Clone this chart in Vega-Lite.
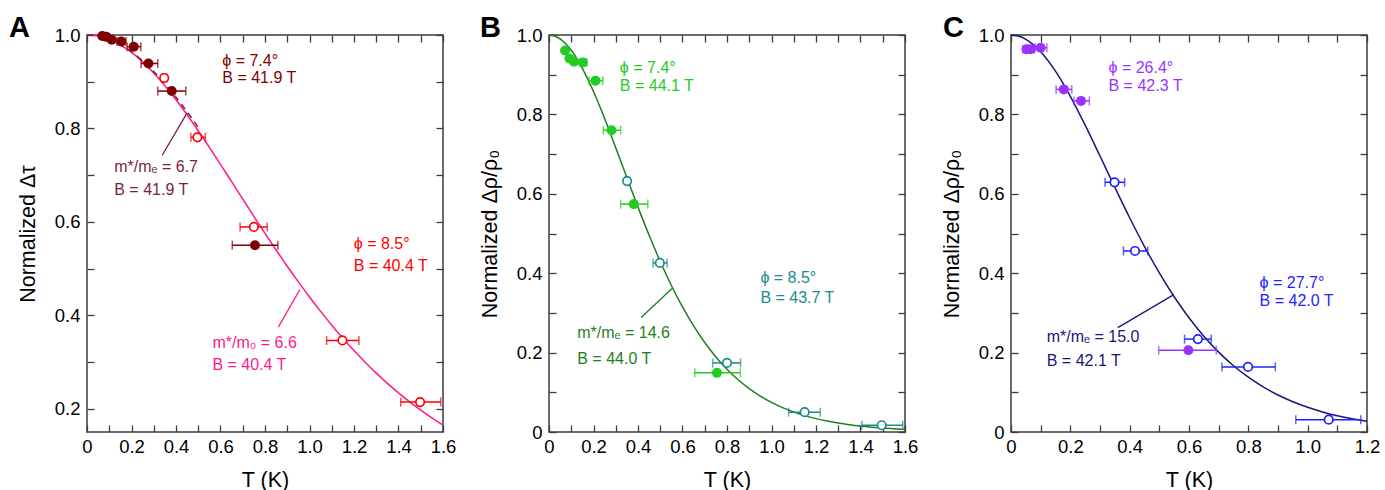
{
  "$schema": "https://vega.github.io/schema/vega-lite/v6.json",
  "background": "white",
  "padding": {"left": 8, "top": 13, "right": 2, "bottom": 0},
  "bounds": "flush",
  "spacing": 106,
  "config": {
    "font": "Liberation Sans",
    "view": {"stroke": "#3c3c3c", "strokeWidth": 1.5},
    "axis": {"labelFontSize": 18.5, "titleFontSize": 21.5, "titleFontWeight": "normal", "labelColor": "#000", "titleColor": "#000", "tickColor": "#3c3c3c", "tickWidth": 1.3, "labelFont": "Liberation Sans", "titleFont": "Liberation Sans", "grid": false, "domain": false, "labelOverlap": false, "labelFlush": false},
    "range": {"category": ["#7f0000", "#ff0000", "#ff1a8c", "#7a1f44", "#22cc22", "#1a8c8c", "#1e7f1e", "#9933ff", "#1f1fff", "#16167a"]},
    "title": {"font": "Liberation Sans"}
  },
  "datasets": {
    "curveA": [{"T":0,"v":1,"s":"Afit"},{"T":0.05,"v":0.9976,"s":"Afit"},{"T":0.1,"v":0.9905,"s":"Afit"},{"T":0.15,"v":0.9787,"s":"Afit"},{"T":0.2,"v":0.9626,"s":"Afit"},{"T":0.25,"v":0.9424,"s":"Afit"},{"T":0.3,"v":0.9186,"s":"Afit"},{"T":0.35,"v":0.8914,"s":"Afit"},{"T":0.4,"v":0.8615,"s":"Afit"},{"T":0.45,"v":0.8292,"s":"Afit"},{"T":0.5,"v":0.795,"s":"Afit"},{"T":0.55,"v":0.7594,"s":"Afit"},{"T":0.6,"v":0.7229,"s":"Afit"},{"T":0.65,"v":0.6859,"s":"Afit"},{"T":0.7,"v":0.6488,"s":"Afit"},{"T":0.75,"v":0.6118,"s":"Afit"},{"T":0.8,"v":0.5753,"s":"Afit"},{"T":0.85,"v":0.5396,"s":"Afit"},{"T":0.9,"v":0.5049,"s":"Afit"},{"T":0.95,"v":0.4714,"s":"Afit"},{"T":1.0,"v":0.4391,"s":"Afit"},{"T":1.05,"v":0.4082,"s":"Afit"},{"T":1.1,"v":0.3787,"s":"Afit"},{"T":1.15,"v":0.3508,"s":"Afit"},{"T":1.2,"v":0.3244,"s":"Afit"},{"T":1.25,"v":0.2995,"s":"Afit"},{"T":1.3,"v":0.2761,"s":"Afit"},{"T":1.35,"v":0.2542,"s":"Afit"},{"T":1.4,"v":0.2337,"s":"Afit"},{"T":1.45,"v":0.2146,"s":"Afit"},{"T":1.5,"v":0.1969,"s":"Afit"},{"T":1.55,"v":0.1804,"s":"Afit"},{"T":1.6,"v":0.1652,"s":"Afit"}],
    "curveA74": [{"T":0,"v":1,"s":"Afit74"},{"T":0.05,"v":0.9977,"s":"Afit74"},{"T":0.1,"v":0.9909,"s":"Afit74"},{"T":0.15,"v":0.9796,"s":"Afit74"},{"T":0.2,"v":0.9641,"s":"Afit74"},{"T":0.25,"v":0.9448,"s":"Afit74"},{"T":0.3,"v":0.9218,"s":"Afit74"},{"T":0.35,"v":0.8956,"s":"Afit74"},{"T":0.4,"v":0.8667,"s":"Afit74"},{"T":0.45,"v":0.8355,"s":"Afit74"},{"T":0.5,"v":0.8024,"s":"Afit74"}],
    "curveB": [{"T":0,"v":1,"s":"Bfit"},{"T":0.025,"v":0.9975,"s":"Bfit"},{"T":0.05,"v":0.9902,"s":"Bfit"},{"T":0.1,"v":0.9615,"s":"Bfit"},{"T":0.15,"v":0.9162,"s":"Bfit"},{"T":0.2,"v":0.8576,"s":"Bfit"},{"T":0.25,"v":0.7896,"s":"Bfit"},{"T":0.3,"v":0.7161,"s":"Bfit"},{"T":0.35,"v":0.6408,"s":"Bfit"},{"T":0.4,"v":0.5664,"s":"Bfit"},{"T":0.45,"v":0.4955,"s":"Bfit"},{"T":0.5,"v":0.4294,"s":"Bfit"},{"T":0.55,"v":0.3691,"s":"Bfit"},{"T":0.6,"v":0.3149,"s":"Bfit"},{"T":0.65,"v":0.2671,"s":"Bfit"},{"T":0.7,"v":0.2253,"s":"Bfit"},{"T":0.75,"v":0.1891,"s":"Bfit"},{"T":0.8,"v":0.1581,"s":"Bfit"},{"T":0.85,"v":0.1316,"s":"Bfit"},{"T":0.9,"v":0.1092,"s":"Bfit"},{"T":0.95,"v":0.0903,"s":"Bfit"},{"T":1.0,"v":0.0745,"s":"Bfit"},{"T":1.05,"v":0.0613,"s":"Bfit"},{"T":1.1,"v":0.0503,"s":"Bfit"},{"T":1.15,"v":0.0412,"s":"Bfit"},{"T":1.2,"v":0.0337,"s":"Bfit"},{"T":1.25,"v":0.0275,"s":"Bfit"},{"T":1.3,"v":0.0224,"s":"Bfit"},{"T":1.35,"v":0.0183,"s":"Bfit"},{"T":1.4,"v":0.0149,"s":"Bfit"},{"T":1.45,"v":0.0121,"s":"Bfit"},{"T":1.5,"v":0.0098,"s":"Bfit"},{"T":1.55,"v":0.0079,"s":"Bfit"},{"T":1.6,"v":0.0064,"s":"Bfit"}],
    "curveC": [{"T":0,"v":1,"s":"Cfit"},{"T":0.025,"v":0.9973,"s":"Cfit"},{"T":0.05,"v":0.9892,"s":"Cfit"},{"T":0.1,"v":0.9579,"s":"Cfit"},{"T":0.15,"v":0.9088,"s":"Cfit"},{"T":0.2,"v":0.8456,"s":"Cfit"},{"T":0.25,"v":0.7729,"s":"Cfit"},{"T":0.3,"v":0.6952,"s":"Cfit"},{"T":0.35,"v":0.6164,"s":"Cfit"},{"T":0.4,"v":0.5396,"s":"Cfit"},{"T":0.45,"v":0.4672,"s":"Cfit"},{"T":0.5,"v":0.4007,"s":"Cfit"},{"T":0.55,"v":0.3407,"s":"Cfit"},{"T":0.6,"v":0.2876,"s":"Cfit"},{"T":0.65,"v":0.2412,"s":"Cfit"},{"T":0.7,"v":0.2012,"s":"Cfit"},{"T":0.75,"v":0.167,"s":"Cfit"},{"T":0.8,"v":0.138,"s":"Cfit"},{"T":0.85,"v":0.1136,"s":"Cfit"},{"T":0.9,"v":0.0932,"s":"Cfit"},{"T":0.95,"v":0.0762,"s":"Cfit"},{"T":1.0,"v":0.0622,"s":"Cfit"},{"T":1.05,"v":0.0506,"s":"Cfit"},{"T":1.1,"v":0.0411,"s":"Cfit"},{"T":1.15,"v":0.0333,"s":"Cfit"},{"T":1.2,"v":0.0269,"s":"Cfit"}],
    "ptsA": [{"T":0.069,"v":0.998,"s":"A74","o":0},{"T":0.087,"v":0.996,"s":"A74","o":0},{"T":0.111,"v":0.99,"s":"A74","o":0},{"T":0.154,"v":0.986,"lo":0.135,"hi":0.175,"s":"A74","o":0},{"T":0.21,"v":0.975,"lo":0.18,"hi":0.242,"s":"A74","o":0},{"T":0.276,"v":0.939,"lo":0.243,"hi":0.318,"s":"A74","o":0},{"T":0.381,"v":0.88,"lo":0.318,"hi":0.444,"s":"A74","o":0},{"T":0.755,"v":0.55,"lo":0.653,"hi":0.858,"s":"A74","o":0},
      {"T":0.347,"v":0.908,"lo":0.336,"hi":0.36,"s":"A85","o":1},{"T":0.496,"v":0.781,"lo":0.467,"hi":0.532,"s":"A85","o":1},{"T":0.75,"v":0.589,"lo":0.688,"hi":0.81,"s":"A85","o":1},{"T":1.148,"v":0.346,"lo":1.077,"hi":1.222,"s":"A85","o":1},{"T":1.497,"v":0.214,"lo":1.41,"hi":1.59,"s":"A85","o":1}],
    "ptsB": [{"T":0.072,"v":0.961,"s":"B74","o":0},{"T":0.092,"v":0.941,"s":"B74","o":0},{"T":0.112,"v":0.933,"s":"B74","o":0},{"T":0.152,"v":0.931,"lo":0.137,"hi":0.17,"s":"B74","o":0},{"T":0.209,"v":0.885,"lo":0.18,"hi":0.242,"s":"B74","o":0},{"T":0.281,"v":0.76,"lo":0.244,"hi":0.322,"s":"B74","o":0},{"T":0.381,"v":0.574,"lo":0.322,"hi":0.444,"s":"B74","o":0},{"T":0.755,"v":0.149,"lo":0.655,"hi":0.86,"s":"B74","o":0},
      {"T":0.351,"v":0.632,"lo":0.341,"hi":0.362,"s":"B85","o":1},{"T":0.498,"v":0.426,"lo":0.468,"hi":0.531,"s":"B85","o":1},{"T":0.8,"v":0.174,"lo":0.736,"hi":0.861,"s":"B85","o":1},{"T":1.149,"v":0.05,"lo":1.077,"hi":1.219,"s":"B85","o":1},{"T":1.495,"v":0.017,"lo":1.406,"hi":1.59,"s":"B85","o":1}],
    "ptsC": [{"T":0.052,"v":0.964,"lo":0.04,"hi":0.064,"s":"C26","o":0},{"T":0.066,"v":0.964,"lo":0.055,"hi":0.078,"s":"C26","o":0},{"T":0.1,"v":0.968,"lo":0.082,"hi":0.121,"s":"C26","o":0},{"T":0.178,"v":0.863,"lo":0.152,"hi":0.205,"s":"C26","o":0},{"T":0.236,"v":0.834,"lo":0.212,"hi":0.264,"s":"C26","o":0},{"T":0.598,"v":0.206,"lo":0.498,"hi":0.692,"s":"C26","o":0},
      {"T":0.349,"v":0.629,"lo":0.317,"hi":0.383,"s":"C27","o":1},{"T":0.418,"v":0.456,"lo":0.379,"hi":0.461,"s":"C27","o":1},{"T":0.63,"v":0.234,"lo":0.585,"hi":0.675,"s":"C27","o":1},{"T":0.799,"v":0.164,"lo":0.711,"hi":0.891,"s":"C27","o":1},{"T":1.071,"v":0.031,"lo":0.96,"hi":1.179,"s":"C27","o":1}],
    "labA": [{"T":0.608,"v":0.944,"t":"ϕ = 7.4°","s":"A74"},{"T":0.608,"v":0.909,"t":"B = 41.9 T","s":"A74"},{"T":0.1225,"v":0.7175,"t":"m*/mₑ = 6.7","s":"Afit74"},{"T":0.1225,"v":0.6676,"t":"B = 41.9 T","s":"Afit74"},{"T":1.199,"v":0.5517,"t":"ϕ = 8.5°","s":"A85"},{"T":1.199,"v":0.505,"t":"B = 40.4 T","s":"A85"},{"T":0.5635,"v":0.3415,"t":"m*/m₀ = 6.6","s":"Afit"},{"T":0.5635,"v":0.2935,"t":"B = 40.4 T","s":"Afit"}],
    "labB": [{"T":0.3185,"v":0.918,"t":"ϕ = 7.4°","s":"B74"},{"T":0.3185,"v":0.872,"t":"B = 44.1 T","s":"B74"},{"T":0.95,"v":0.389,"t":"ϕ = 8.5°","s":"B85"},{"T":0.95,"v":0.338,"t":"B = 43.7 T","s":"B85"},{"T":0.127,"v":0.249,"t":"m*/mₑ = 14.6","s":"Bfit"},{"T":0.127,"v":0.185,"t":"B = 44.0 T","s":"Bfit"}],
    "labC": [{"T":0.3286,"v":0.918,"t":"ϕ = 26.4°","s":"C26"},{"T":0.3286,"v":0.872,"t":"B = 42.3 T","s":"C26"},{"T":0.838,"v":0.376,"t":"ϕ = 27.7°","s":"C27"},{"T":0.838,"v":0.33,"t":"B = 42.0 T","s":"C27"},{"T":0.1205,"v":0.24,"t":"m*/mₑ = 15.0","s":"Cfit"},{"T":0.1205,"v":0.179,"t":"B = 42.1 T","s":"Cfit"}],
    "leadA": [{"T":0.338,"v":0.7426,"T2":0.45,"v2":0.8334,"s":"Afit74"},{"T":0.86,"v":0.3745,"T2":0.957,"v2":0.455,"s":"Afit"}],
    "leadB": [{"T":0.414,"v":0.2884,"T2":0.553,"v2":0.3615,"s":"Bfit"}],
    "leadC": [{"T":0.36,"v":0.263,"T2":0.549,"v2":0.346,"s":"Cfit"}]
  },
  "hconcat": [
    {
      "width": 356, "height": 397,
      "title": {"text": "A", "anchor": "start", "frame": "group", "dx": -78, "offset": -17, "fontSize": 29, "fontWeight": "bold", "color": "#000"},
      "resolve": {"axis": {"x": "independent", "y": "independent"}},
      "layer": [
        {"data": {"name": "curveA"}, "mark": {"type": "line", "strokeWidth": 1.5, "interpolate": "monotone"},
         "encoding": {
           "x": {"field": "T", "type": "quantitative", "scale": {"domain": [0, 1.6], "nice": false, "zero": false},
                 "axis": {"orient": "bottom", "title": "T (K)", "values": [0,0.1,0.2,0.3,0.4,0.5,0.6,0.7,0.8,0.9,1,1.1,1.2,1.3,1.4,1.5,1.6], "tickSize": -7, "labelPadding": 12, "titlePadding": 14,
                          "labelExpr": "round(datum.value*10)%2==0 ? (datum.value==0 ? '0' : format(datum.value,'.1f')) : ''",
                          "encode": {"ticks": {"update": {"y2": {"signal": "round(datum.value*10)%2==0 ? -7 : -4"}}}}}},
           "y": {"field": "v", "type": "quantitative", "scale": {"domain": [0.15, 1], "nice": false, "zero": false},
                 "axis": {"orient": "left", "title": "Normalized Δτ", "values": [0.2,0.3,0.4,0.5,0.6,0.7,0.8,0.9,1], "tickSize": -7, "labelPadding": 14, "titlePadding": 15,
                          "labelExpr": "round(datum.value*10)%2==0 ? (datum.value==0 ? '0' : format(datum.value,'.1f')) : ''",
                          "encode": {"ticks": {"update": {"x2": {"signal": "round(datum.value*10)%2==0 ? 7 : 4"}}}}}},
           "color": {"field": "s", "type": "nominal", "legend": null}}},
        {"data": {"name": "curveA74"}, "mark": {"type": "line", "strokeWidth": 1.5, "strokeDash": [6, 5], "interpolate": "monotone"},
         "encoding": {"x": {"field": "T", "type": "quantitative", "axis": null}, "y": {"field": "v", "type": "quantitative", "axis": null}, "color": {"field": "s", "type": "nominal", "legend": null}}},
        {"data": {"name": "leadA"}, "mark": {"type": "rule", "strokeWidth": 1.3},
         "encoding": {"x": {"field": "T", "type": "quantitative", "axis": null}, "y": {"field": "v", "type": "quantitative", "axis": null}, "x2": {"field": "T2"}, "y2": {"field": "v2"}, "color": {"field": "s", "type": "nominal", "legend": null}}},
        {"data": {"name": "ptsA"}, "transform": [{"filter": "datum.lo != null"}], "mark": {"type": "rule", "strokeWidth": 1.5},
         "encoding": {"x": {"field": "lo", "type": "quantitative", "axis": null}, "x2": {"field": "hi"}, "y": {"field": "v", "type": "quantitative", "axis": null}, "color": {"field": "s", "type": "nominal", "legend": null}}},
        {"data": {"name": "ptsA"}, "transform": [{"filter": "datum.lo != null"}], "mark": {"type": "tick", "orient": "vertical", "size": 9, "thickness": 1.5},
         "encoding": {"x": {"field": "lo", "type": "quantitative", "axis": null}, "y": {"field": "v", "type": "quantitative", "axis": null}, "color": {"field": "s", "type": "nominal", "legend": null}}},
        {"data": {"name": "ptsA"}, "transform": [{"filter": "datum.lo != null"}], "mark": {"type": "tick", "orient": "vertical", "size": 9, "thickness": 1.5},
         "encoding": {"x": {"field": "hi", "type": "quantitative", "axis": null}, "y": {"field": "v", "type": "quantitative", "axis": null}, "color": {"field": "s", "type": "nominal", "legend": null}}},
        {"data": {"name": "ptsA"}, "transform": [{"filter": "datum.o == 0"}], "mark": {"type": "point", "shape": "circle", "filled": true, "size": 100, "opacity": 1},
         "encoding": {"x": {"field": "T", "type": "quantitative", "axis": null}, "y": {"field": "v", "type": "quantitative", "axis": null}, "color": {"field": "s", "type": "nominal", "legend": null}}},
        {"data": {"name": "ptsA"}, "transform": [{"filter": "datum.o == 1"}], "mark": {"type": "point", "shape": "circle", "filled": false, "fill": "white", "fillOpacity": 1, "strokeWidth": 1.7, "size": 72, "opacity": 1},
         "encoding": {"x": {"field": "T", "type": "quantitative", "axis": null}, "y": {"field": "v", "type": "quantitative", "axis": null}, "color": {"field": "s", "type": "nominal", "legend": null}}},
        {"data": {"name": "labA"}, "mark": {"type": "text", "align": "left", "baseline": "middle", "fontSize": 16},
         "encoding": {
           "x": {"field": "T", "type": "quantitative", "axis": {"orient": "top", "title": null, "labels": false, "values": [0,0.1,0.2,0.3,0.4,0.5,0.6,0.7,0.8,0.9,1,1.1,1.2,1.3,1.4,1.5,1.6], "tickSize": -7, "encode": {"ticks": {"update": {"y2": {"signal": "round(datum.value*10)%2==0 ? 7 : 4"}}}}}},
           "y": {"field": "v", "type": "quantitative", "axis": {"orient": "right", "title": null, "labels": false, "values": [0.2,0.3,0.4,0.5,0.6,0.7,0.8,0.9,1], "tickSize": -7, "encode": {"ticks": {"update": {"x2": {"signal": "round(datum.value*10)%2==0 ? -7 : -4"}}}}}},
           "text": {"field": "t"},
           "color": {"field": "s", "type": "nominal", "legend": null}}}
      ]
    },
    {
      "width": 356, "height": 397,
      "title": {"text": "B", "anchor": "start", "frame": "group", "dx": -69, "offset": -17, "fontSize": 29, "fontWeight": "bold", "color": "#000"},
      "resolve": {"axis": {"x": "independent", "y": "independent"}},
      "layer": [
        {"data": {"name": "curveB"}, "mark": {"type": "line", "strokeWidth": 1.5, "interpolate": "monotone"},
         "encoding": {
           "x": {"field": "T", "type": "quantitative", "scale": {"domain": [0, 1.6], "nice": false, "zero": false},
                 "axis": {"orient": "bottom", "title": "T (K)", "values": [0,0.1,0.2,0.3,0.4,0.5,0.6,0.7,0.8,0.9,1,1.1,1.2,1.3,1.4,1.5,1.6], "tickSize": -7, "labelPadding": 12, "titlePadding": 14,
                          "labelExpr": "round(datum.value*10)%2==0 ? (datum.value==0 ? '0' : format(datum.value,'.1f')) : ''",
                          "encode": {"ticks": {"update": {"y2": {"signal": "round(datum.value*10)%2==0 ? -7 : -4"}}}}}},
           "y": {"field": "v", "type": "quantitative", "scale": {"domain": [0, 1], "nice": false, "zero": false},
                 "axis": {"orient": "left", "title": "Normalized Δρ/ρ₀", "values": [0,0.1,0.2,0.3,0.4,0.5,0.6,0.7,0.8,0.9,1], "tickSize": -7, "labelPadding": 14, "titlePadding": 15,
                          "labelExpr": "round(datum.value*10)%2==0 ? (datum.value==0 ? '0' : format(datum.value,'.1f')) : ''",
                          "encode": {"ticks": {"update": {"x2": {"signal": "round(datum.value*10)%2==0 ? 7 : 4"}}}}}},
           "color": {"field": "s", "type": "nominal", "legend": null}}},
        {"data": {"name": "leadB"}, "mark": {"type": "rule", "strokeWidth": 1.3},
         "encoding": {"x": {"field": "T", "type": "quantitative", "axis": null}, "y": {"field": "v", "type": "quantitative", "axis": null}, "x2": {"field": "T2"}, "y2": {"field": "v2"}, "color": {"field": "s", "type": "nominal", "legend": null}}},
        {"data": {"name": "ptsB"}, "transform": [{"filter": "datum.lo != null"}], "mark": {"type": "rule", "strokeWidth": 1.5},
         "encoding": {"x": {"field": "lo", "type": "quantitative", "axis": null}, "x2": {"field": "hi"}, "y": {"field": "v", "type": "quantitative", "axis": null}, "color": {"field": "s", "type": "nominal", "legend": null}}},
        {"data": {"name": "ptsB"}, "transform": [{"filter": "datum.lo != null"}], "mark": {"type": "tick", "orient": "vertical", "size": 9, "thickness": 1.5},
         "encoding": {"x": {"field": "lo", "type": "quantitative", "axis": null}, "y": {"field": "v", "type": "quantitative", "axis": null}, "color": {"field": "s", "type": "nominal", "legend": null}}},
        {"data": {"name": "ptsB"}, "transform": [{"filter": "datum.lo != null"}], "mark": {"type": "tick", "orient": "vertical", "size": 9, "thickness": 1.5},
         "encoding": {"x": {"field": "hi", "type": "quantitative", "axis": null}, "y": {"field": "v", "type": "quantitative", "axis": null}, "color": {"field": "s", "type": "nominal", "legend": null}}},
        {"data": {"name": "ptsB"}, "transform": [{"filter": "datum.o == 0"}], "mark": {"type": "point", "shape": "circle", "filled": true, "size": 100, "opacity": 1},
         "encoding": {"x": {"field": "T", "type": "quantitative", "axis": null}, "y": {"field": "v", "type": "quantitative", "axis": null}, "color": {"field": "s", "type": "nominal", "legend": null}}},
        {"data": {"name": "ptsB"}, "transform": [{"filter": "datum.o == 1"}], "mark": {"type": "point", "shape": "circle", "filled": false, "fill": "white", "fillOpacity": 1, "strokeWidth": 1.7, "size": 72, "opacity": 1},
         "encoding": {"x": {"field": "T", "type": "quantitative", "axis": null}, "y": {"field": "v", "type": "quantitative", "axis": null}, "color": {"field": "s", "type": "nominal", "legend": null}}},
        {"data": {"name": "labB"}, "mark": {"type": "text", "align": "left", "baseline": "middle", "fontSize": 16},
         "encoding": {
           "x": {"field": "T", "type": "quantitative", "axis": {"orient": "top", "title": null, "labels": false, "values": [0,0.1,0.2,0.3,0.4,0.5,0.6,0.7,0.8,0.9,1,1.1,1.2,1.3,1.4,1.5,1.6], "tickSize": -7, "encode": {"ticks": {"update": {"y2": {"signal": "round(datum.value*10)%2==0 ? 7 : 4"}}}}}},
           "y": {"field": "v", "type": "quantitative", "axis": {"orient": "right", "title": null, "labels": false, "values": [0,0.1,0.2,0.3,0.4,0.5,0.6,0.7,0.8,0.9,1], "tickSize": -7, "encode": {"ticks": {"update": {"x2": {"signal": "round(datum.value*10)%2==0 ? -7 : -4"}}}}}},
           "text": {"field": "t"},
           "color": {"field": "s", "type": "nominal", "legend": null}}}
      ]
    },
    {
      "width": 356, "height": 397,
      "title": {"text": "C", "anchor": "start", "frame": "group", "dx": -68, "offset": -17, "fontSize": 29, "fontWeight": "bold", "color": "#000"},
      "resolve": {"axis": {"x": "independent", "y": "independent"}},
      "layer": [
        {"data": {"name": "curveC"}, "mark": {"type": "line", "strokeWidth": 1.5, "interpolate": "monotone"},
         "encoding": {
           "x": {"field": "T", "type": "quantitative", "scale": {"domain": [0, 1.2], "nice": false, "zero": false},
                 "axis": {"orient": "bottom", "title": "T (K)", "values": [0,0.1,0.2,0.3,0.4,0.5,0.6,0.7,0.8,0.9,1,1.1,1.2], "tickSize": -7, "labelPadding": 12, "titlePadding": 14,
                          "labelExpr": "round(datum.value*10)%2==0 ? (datum.value==0 ? '0' : format(datum.value,'.1f')) : ''",
                          "encode": {"ticks": {"update": {"y2": {"signal": "round(datum.value*10)%2==0 ? -7 : -4"}}}}}},
           "y": {"field": "v", "type": "quantitative", "scale": {"domain": [0, 1], "nice": false, "zero": false},
                 "axis": {"orient": "left", "title": "Normalized Δρ/ρ₀", "values": [0,0.1,0.2,0.3,0.4,0.5,0.6,0.7,0.8,0.9,1], "tickSize": -7, "labelPadding": 14, "titlePadding": 15,
                          "labelExpr": "round(datum.value*10)%2==0 ? (datum.value==0 ? '0' : format(datum.value,'.1f')) : ''",
                          "encode": {"ticks": {"update": {"x2": {"signal": "round(datum.value*10)%2==0 ? 7 : 4"}}}}}},
           "color": {"field": "s", "type": "nominal", "legend": null}}},
        {"data": {"name": "leadC"}, "mark": {"type": "rule", "strokeWidth": 1.3},
         "encoding": {"x": {"field": "T", "type": "quantitative", "axis": null}, "y": {"field": "v", "type": "quantitative", "axis": null}, "x2": {"field": "T2"}, "y2": {"field": "v2"}, "color": {"field": "s", "type": "nominal", "legend": null}}},
        {"data": {"name": "ptsC"}, "transform": [{"filter": "datum.lo != null"}], "mark": {"type": "rule", "strokeWidth": 1.5},
         "encoding": {"x": {"field": "lo", "type": "quantitative", "axis": null}, "x2": {"field": "hi"}, "y": {"field": "v", "type": "quantitative", "axis": null}, "color": {"field": "s", "type": "nominal", "legend": null}}},
        {"data": {"name": "ptsC"}, "transform": [{"filter": "datum.lo != null"}], "mark": {"type": "tick", "orient": "vertical", "size": 9, "thickness": 1.5},
         "encoding": {"x": {"field": "lo", "type": "quantitative", "axis": null}, "y": {"field": "v", "type": "quantitative", "axis": null}, "color": {"field": "s", "type": "nominal", "legend": null}}},
        {"data": {"name": "ptsC"}, "transform": [{"filter": "datum.lo != null"}], "mark": {"type": "tick", "orient": "vertical", "size": 9, "thickness": 1.5},
         "encoding": {"x": {"field": "hi", "type": "quantitative", "axis": null}, "y": {"field": "v", "type": "quantitative", "axis": null}, "color": {"field": "s", "type": "nominal", "legend": null}}},
        {"data": {"name": "ptsC"}, "transform": [{"filter": "datum.o == 0"}], "mark": {"type": "point", "shape": "circle", "filled": true, "size": 100, "opacity": 1},
         "encoding": {"x": {"field": "T", "type": "quantitative", "axis": null}, "y": {"field": "v", "type": "quantitative", "axis": null}, "color": {"field": "s", "type": "nominal", "legend": null}}},
        {"data": {"name": "ptsC"}, "transform": [{"filter": "datum.o == 1"}], "mark": {"type": "point", "shape": "circle", "filled": false, "fill": "white", "fillOpacity": 1, "strokeWidth": 1.7, "size": 72, "opacity": 1},
         "encoding": {"x": {"field": "T", "type": "quantitative", "axis": null}, "y": {"field": "v", "type": "quantitative", "axis": null}, "color": {"field": "s", "type": "nominal", "legend": null}}},
        {"data": {"name": "labC"}, "mark": {"type": "text", "align": "left", "baseline": "middle", "fontSize": 16},
         "encoding": {
           "x": {"field": "T", "type": "quantitative", "axis": {"orient": "top", "title": null, "labels": false, "values": [0,0.1,0.2,0.3,0.4,0.5,0.6,0.7,0.8,0.9,1,1.1,1.2], "tickSize": -7, "encode": {"ticks": {"update": {"y2": {"signal": "round(datum.value*10)%2==0 ? 7 : 4"}}}}}},
           "y": {"field": "v", "type": "quantitative", "axis": {"orient": "right", "title": null, "labels": false, "values": [0,0.1,0.2,0.3,0.4,0.5,0.6,0.7,0.8,0.9,1], "tickSize": -7, "encode": {"ticks": {"update": {"x2": {"signal": "round(datum.value*10)%2==0 ? -7 : -4"}}}}}},
           "text": {"field": "t"},
           "color": {"field": "s", "type": "nominal", "legend": null}}}
      ]
    }
  ]
}
